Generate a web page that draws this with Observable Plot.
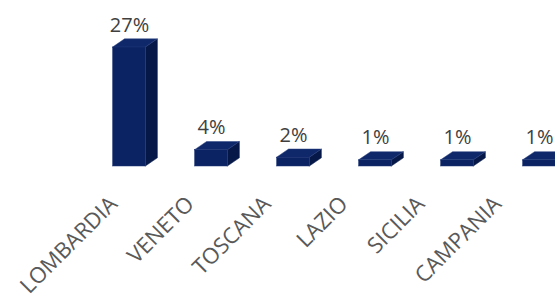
<!DOCTYPE html>
<html>
<head>
<meta charset="utf-8">
<script src="https://cdn.jsdelivr.net/npm/d3@7"></script>
<script src="https://cdn.jsdelivr.net/npm/@observablehq/plot@0.6"></script>
<style>
  html, body { margin: 0; padding: 0; background: #fff; overflow: hidden; }
  #chart svg { display: block; }
</style>
</head>
<body>
<div id="chart"></div>
<script>
// ---- data ----
const categories = ["LOMBARDIA", "VENETO", "TOSCANA", "LAZIO", "SICILIA", "CAMPANIA"];
const values = [27, 3.7, 2.0, 1.4, 1.4, 1.4];           // bar heights
const valueLabels = ["27%", "4%", "2%", "1%", "1%", "1%"];

// ---- styling / geometry constants ----
const HALF = 0.2;          // half width of the bar front (x units)
const DEPTH_X = 0.146;     // 3D depth (x units)
const DEPTH_Y = 1.85;      // 3D depth (y units)
const LABEL_STEP = 0.937;  // perspective spacing of category labels
const LABEL_SHIFT = -0.134;
const FRONT = "#0b2363", TOP = "#0e286a", SIDE = "#061848";

const rows = categories.map((c, i) => ({c, i, v: values[i], label: valueLabels[i]}));
const sidePts = rows.flatMap(d => [
  {c: d.c, x: d.i + HALF, y1: 0, y2: d.v},
  {c: d.c, x: d.i + HALF + DEPTH_X, y1: DEPTH_Y, y2: d.v + DEPTH_Y}
]);
const topPts = rows.flatMap(d => [
  {c: d.c, y: d.v, x1: d.i - HALF, x2: d.i + HALF},
  {c: d.c, y: d.v + DEPTH_Y, x1: d.i - HALF + DEPTH_X, x2: d.i + HALF + DEPTH_X}
]);

const chart = Plot.plot({
  width: 555,
  height: 301,
  margin: 0,
  x: {type: "linear", domain: [0, 5], range: [129, 539], axis: null},
  y: {type: "linear", domain: [0, 27], range: [166, 47], axis: null},
  style: {background: "#fff", overflow: "visible", fontFamily: "'Open Sans', sans-serif"},
  marks: [
    Plot.areaY(sidePts, {x: "x", y1: "y1", y2: "y2", z: "c", fill: SIDE, stroke: SIDE, strokeWidth: 0.5}),
    Plot.areaX(topPts, {y: "y", x1: "x1", x2: "x2", z: "c", fill: TOP, stroke: "#2a4080", strokeWidth: 0.5}),
    Plot.rectY(rows, {x1: d => d.i - HALF, x2: d => d.i + HALF, y1: 0, y2: "v", fill: FRONT, stroke: "#1e3474", strokeWidth: 0.5}),
    Plot.text(rows, {x: "i", y: "v", text: "label", lineAnchor: "bottom", dy: -16, fontSize: 20, fill: "#404040"}),
    Plot.text(rows, {x: d => d.i * LABEL_STEP + LABEL_SHIFT, y: 0, text: "c", rotate: -45, textAnchor: "end", lineAnchor: "bottom", dy: 39, fontSize: 22, fill: "#595959"})
  ]
});
document.getElementById("chart").append(chart);
</script>
</body>
</html>
